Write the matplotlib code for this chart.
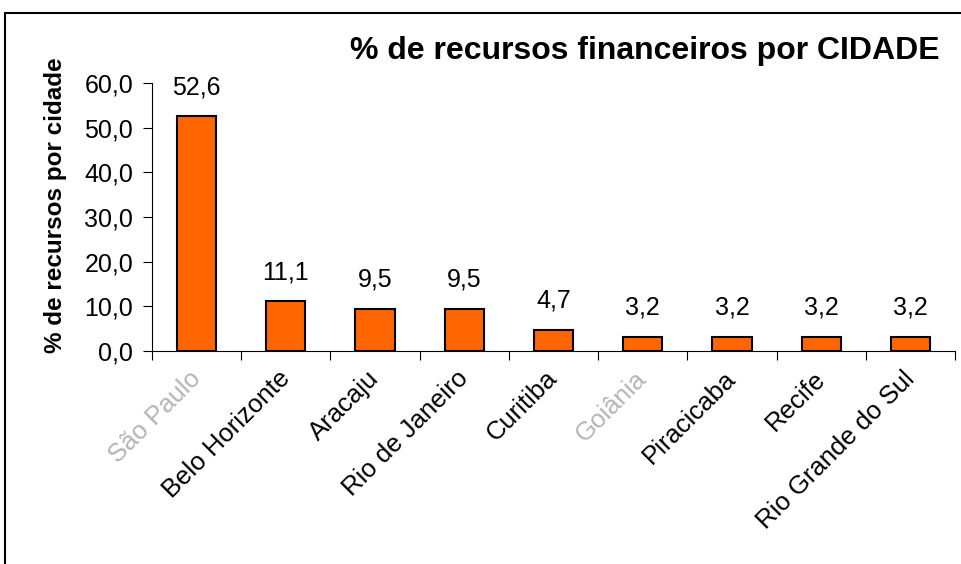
import matplotlib.pyplot as plt
import numpy as np
from matplotlib.patches import Rectangle
from matplotlib.transforms import ScaledTranslation

plt.rcParams['font.family'] = ['Liberation Sans', 'DejaVu Sans']

# --- Data ---
cidades = ["São Paulo", "Belo Horizonte", "Aracaju", "Rio de Janeiro", "Curitiba",
           "Goiânia", "Piracicaba", "Recife", "Rio Grande do Sul"]
percentual = [52.6, 11.1, 9.5, 9.5, 4.7, 3.2, 3.2, 3.2, 3.2]
y_ticks = [0, 10, 20, 30, 40, 50, 60]
faded = ["São Paulo", "Goiânia"]  # these labels render pale in the original

fig = plt.figure(figsize=(9.61, 5.64), dpi=100)

# outer frame (right and bottom edges run off the picture)
fig.patches.append(Rectangle((5/961, -0.1), 1.2, 1 - 13/564 + 0.1, transform=fig.transFigure,
                             fill=False, edgecolor='black', linewidth=1.5))

ax = fig.add_axes([152/961, 1 - 351/564, (955 - 152)/961, (351 - 83)/564])

x = np.arange(len(cidades))
ax.bar(x, percentual, width=0.44, color='#ff6600', edgecolor='black', linewidth=1.5)

for xi, v in zip(x, percentual):
    ax.text(xi, v + 6.5, f"{v:.1f}".replace('.', ','), ha='center', va='center', fontsize=18)

ax.set_xlim(-0.5, len(cidades) - 0.5)
ax.set_ylim(0, 60)
ax.set_yticks(y_ticks)
ax.set_yticklabels([f"{t:.1f}".replace('.', ',') for t in y_ticks], fontsize=18)

# ticks at category boundaries, labels at centres
ax.set_xticks(np.arange(-0.5, len(cidades)), minor=False)
ax.set_xticklabels([])
ax.set_xticks(x, minor=True)
ax.set_xticklabels(cidades, minor=True, rotation=45, ha='right', rotation_mode='anchor', fontsize=18.5)
ax.tick_params(axis='x', which='minor', length=0, pad=11)
ax.tick_params(axis='x', which='major', length=6.5, direction='out')
ax.tick_params(axis='y', length=6.5, direction='out', pad=7)
shift = ScaledTranslation(-6/72, 0, fig.dpi_scale_trans)
for lbl in ax.get_xticklabels(minor=True):
    lbl.set_transform(lbl.get_transform() + shift)
    if lbl.get_text() in faded:
        lbl.set_color('#b5b5b5')

ax.spines['top'].set_visible(False)
ax.spines['right'].set_visible(False)

ax.set_ylabel("% de recursos por cidade", fontsize=17.5, fontweight='bold')
ax.yaxis.set_label_coords(-0.106, 0.545)
fig.text(940/961, 1 - 51/564, "% de recursos financeiros por CIDADE", ha='right', va='center',
         fontsize=23, fontweight='bold')

fig.savefig("out.png", dpi=100)
